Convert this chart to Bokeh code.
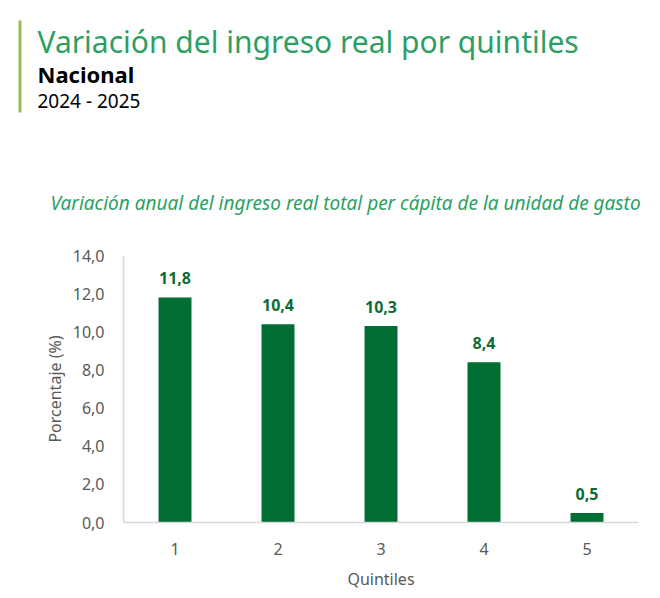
from bokeh.core.properties import value
from bokeh.embed import file_html
from bokeh.layouts import column
from bokeh.models import (ColumnDataSource, CustomJSTickFormatter, FactorRange, FixedTicker,
                          Label, LabelSet, Range1d)
from bokeh.plotting import figure
from bokeh.resources import INLINE

# data
quintiles = ["1", "2", "3", "4", "5"]
variation = [11.8, 10.4, 10.3, 8.4, 0.5]
y_ticks = [0, 2, 4, 6, 8, 10, 12, 14]

TITLE = "Variación del ingreso real por quintiles"
REGION = "Nacional"
PERIOD = "2024 - 2025"
SUBTITLE = "Variación anual del ingreso real total per cápita de la unidad de gasto"

FONT = "Noto Sans"
GREEN_BAR = "#006e33"
GREEN_TEXT = "#2e9f63"
GREY = "#595959"

# header: a bare figure in pixel coordinates (y grows downwards)
head = figure(width=660, height=230, x_range=Range1d(0, 660), y_range=Range1d(230, 0),
              output_backend="svg", toolbar_location=None, tools="",
              x_axis_location=None, y_axis_location=None, min_border=0)
head.frame_align = False
head.outline_line_color = None
head.grid.visible = False

head.quad(left=[18], right=[21], top=[20], bottom=[112], fill_color="#9bbb59", line_color=None)
head.add_layout(Label(x=37, y=41, text=TITLE, text_baseline="alphabetic", text_font=FONT,
                      text_font_size="30px", text_color=GREEN_TEXT))
head.add_layout(Label(x=37, y=73, text=REGION, text_baseline="alphabetic", text_font=FONT,
                      text_font_size="22px", text_font_style="bold", text_color="black"))
head.add_layout(Label(x=37, y=100, text=PERIOD, text_baseline="alphabetic", text_font=FONT,
                      text_font_size="19px", text_color="black"))
head.add_layout(Label(x=345, y=202, text=SUBTITLE, text_align="center", text_baseline="alphabetic",
                      text_font=FONT, text_font_size="19px", text_font_style="italic",
                      text_color=GREEN_TEXT))

# bar chart
source = ColumnDataSource(data=dict(
    x=quintiles,
    y=variation,
    label=[f"{v:.1f}".replace(".", ",") for v in variation],
))

p = figure(width=660, height=368, x_range=FactorRange(*quintiles), y_range=Range1d(0, 14),
           output_backend="svg", toolbar_location=None, tools="",
           min_border_left=123, min_border_right=22, min_border_top=25, min_border_bottom=76)
p.frame_align = False
p.outline_line_color = None
p.grid.visible = False

p.vbar(x="x", top="y", width=0.32, source=source, fill_color=GREEN_BAR, line_color=None)

p.add_layout(LabelSet(x="x", y="y", text="label", source=source, y_offset=13,
                      text_align="center", text_baseline="alphabetic",
                      text_font=value(FONT), text_font_size=value("16px"),
                      text_font_style=value("bold"), text_color=value("#0b6e35")))

for ax in (p.xaxis, p.yaxis):
    ax.axis_line_color = "#d9d9d9"
    ax.axis_line_width = 1.5
    ax.major_tick_line_color = None
    ax.major_tick_out = 0
    ax.major_tick_in = 0
    ax.minor_tick_line_color = None
    ax.major_label_text_font = FONT
    ax.major_label_text_font_size = "16px"
    ax.major_label_text_color = GREY
    ax.axis_label_text_font = FONT
    ax.axis_label_text_font_size = "16px"
    ax.axis_label_text_font_style = "normal"
    ax.axis_label_text_color = GREY

p.yaxis.ticker = FixedTicker(ticks=y_ticks)
p.yaxis.formatter = CustomJSTickFormatter(code="return tick.toFixed(1).replace('.', ',');")
p.yaxis.major_label_standoff = 19
p.yaxis.axis_label = "Porcentaje (%)"
p.yaxis.axis_label_standoff = 4

p.xaxis.major_label_standoff = 20
p.xaxis.axis_label = "Quintiles"
p.xaxis.axis_label_standoff = 10

layout = column(head, p, spacing=0)

open("out.html", "w").write(file_html(layout, INLINE))
